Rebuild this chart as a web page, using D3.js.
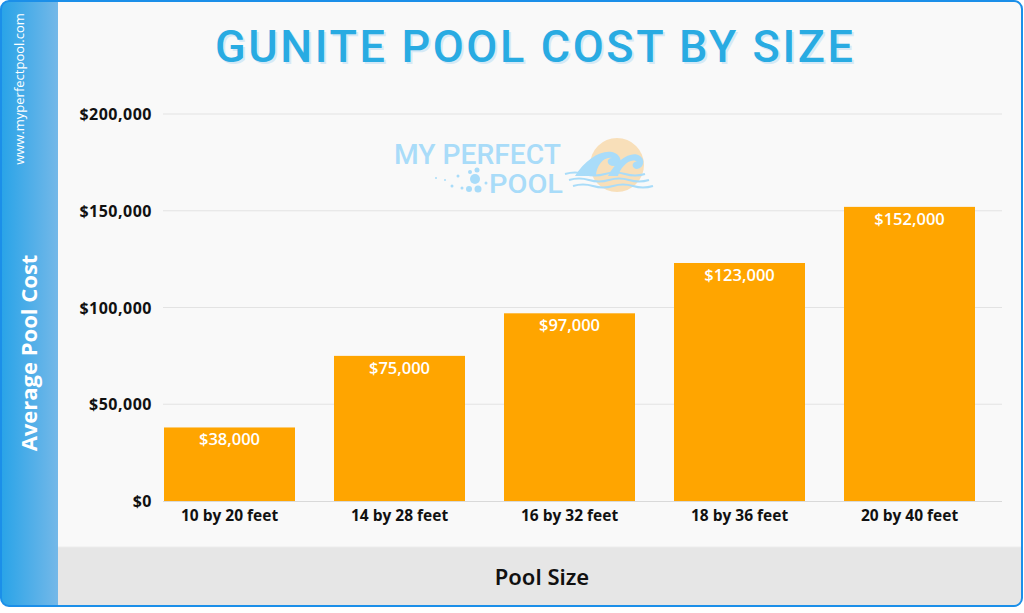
<!DOCTYPE html>
<html><head><meta charset="utf-8">
<script src="https://cdn.jsdelivr.net/npm/d3@7/dist/d3.min.js"></script>
<style>html,body{margin:0;padding:0;background:#fff;}svg{display:block;}</style>
</head><body>
<svg id="c" width="1024" height="613"></svg>
<script>
const categories = ["10 by 20 feet","14 by 28 feet","16 by 32 feet","18 by 36 feet","20 by 40 feet"];
const costs = [38000, 75000, 97000, 123000, 152000];
const yTicks = [0, 50000, 100000, 150000, 200000];
const title = "GUNITE POOL COST BY SIZE";
const xTitle = "Pool Size";
const yTitle = "Average Pool Cost";
const site = "www.myperfectpool.com";

const svg = d3.select("#c");
const defs = svg.append("defs");
const g1 = defs.append("linearGradient").attr("id","side").attr("x1","0").attr("x2","1");
g1.append("stop").attr("offset","0").attr("stop-color","#27a3e8");
g1.append("stop").attr("offset","1").attr("stop-color","#74b8e8");
defs.append("clipPath").attr("id","frame").append("rect")
  .attr("x",1).attr("y",1).attr("width",1021).attr("height",605).attr("rx",8);

const fr = svg.append("g").attr("clip-path","url(#frame)");
fr.append("rect").attr("x",0).attr("y",0).attr("width",1024).attr("height",613).attr("fill","#f9f9f9");
fr.append("rect").attr("x",58).attr("y",547).attr("width",966).attr("height",70).attr("fill","#e6e6e6");
fr.append("line").attr("x1",58).attr("x2",1024).attr("y1",547).attr("y2",547).attr("stroke","#ececec");
fr.append("rect").attr("x",0).attr("y",0).attr("width",58).attr("height",613).attr("fill","url(#side)");
svg.append("rect").attr("x",1).attr("y",1).attr("width",1021).attr("height",605).attr("rx",8)
  .attr("fill","none").attr("stroke","#1b8fe9").attr("stroke-width",2);

// scales
const x = d3.scaleBand().domain(categories).range([144.5, 994.5]).paddingInner(0.2294).paddingOuter(0.1147);
const y = d3.scaleLinear().domain([0, 200000]).range([501, 114]);

// gridlines
svg.append("g").selectAll("line").data(yTicks.slice(1)).join("line")
  .attr("x1",163).attr("x2",1002).attr("y1",d=>y(d)).attr("y2",d=>y(d))
  .attr("stroke","#e3e3e3").attr("stroke-width",1);

// watermark logo
const wm = svg.append("g");
wm.append("circle").attr("cx",617).attr("cy",165).attr("r",27).attr("fill","#f8dfb9");
wm.append("text").attr("x",394).attr("y",164).attr("font-family","Roboto, sans-serif").attr("font-size",24)
  .attr("font-weight",500).attr("fill","#a9dcf9").attr("textLength",167).attr("lengthAdjust","spacingAndGlyphs")
  .attr("transform","translate(394,164) scale(1,1.15) translate(-394,-164)").text("MY PERFECT");
wm.append("text").attr("x",489).attr("y",193).attr("font-family","Roboto, sans-serif").attr("font-size",22)
  .attr("font-weight",500).attr("fill","#a9dcf9").attr("textLength",74).attr("lengthAdjust","spacingAndGlyphs")
  .attr("transform","translate(489,193) scale(1,1.2) translate(-489,-193)").text("POOL");
const bubbles = [[475,179,5],[478,189,3.5],[469,189,3],[477,170,2.5],[470,172,2],[458,176,1.5],[452,186,1.5],[445,180,1],[462,188,1.5],[486,183,1.5],[436,178,1]];
wm.append("g").selectAll("circle").data(bubbles).join("circle")
  .attr("cx",d=>d[0]).attr("cy",d=>d[1]).attr("r",d=>d[2]).attr("fill","#a9dcf9");
wm.append("path").attr("d","M575,176 C585,160 600,150 612,152 C622,154 624,166 614,166 C606,166 606,158 612,158 C604,156 596,166 596,176 Z").attr("fill","#a9dcf9");
wm.append("path").attr("d","M608,176 C616,160 632,150 640,156 C648,162 640,172 634,168 C630,164 636,160 638,162 C630,156 620,168 618,176 Z").attr("fill","#a9dcf9");
[174,180,186].forEach((yy,i)=>{
  wm.append("path").attr("d",`M${565+i*4},${yy} q10,-3 20,0 t20,0 t20,0 t20,0`).attr("fill","none")
    .attr("stroke","#a9dcf9").attr("stroke-width",2);
});

// baseline
svg.append("line").attr("x1",163).attr("x2",1002).attr("y1",501.5).attr("y2",501.5).attr("stroke","#d9d9d9");

// bars
svg.append("g").selectAll("rect").data(costs).join("rect")
  .attr("x",(d,i)=>x(categories[i])).attr("width",x.bandwidth())
  .attr("y",d=>y(d)).attr("height",d=>y(0)-y(d)).attr("fill","#ffa500");

const fmt = d3.format("$,");
svg.append("g").selectAll("text").data(costs).join("text")
  .attr("x",(d,i)=>x(categories[i])+x.bandwidth()/2).attr("y",d=>y(d)+18)
  .attr("text-anchor","middle").attr("font-family","'Open Sans', sans-serif").attr("font-weight",600)
  .attr("font-size",16.5).attr("fill","#ffffff").text(d=>fmt(d));

// y axis
const yAxis = d3.axisLeft(y).tickValues(yTicks).tickFormat(d=>fmt(d)).tickSize(0).tickPadding(0);
const ya = svg.append("g").attr("transform","translate(152,0)").call(yAxis);
ya.select(".domain").remove();
ya.selectAll("text").attr("font-family","'Open Sans', sans-serif").attr("font-weight",700)
  .attr("font-size",16).attr("letter-spacing",0.5).attr("fill","#111").attr("dy","0.35em");

// x axis
const xAxis = d3.axisBottom(x).tickSize(0).tickPadding(0);
const xa = svg.append("g").attr("transform","translate(0,510)").call(xAxis);
xa.select(".domain").remove();
xa.selectAll("text").attr("font-family","'Open Sans', sans-serif").attr("font-weight",700)
  .attr("font-size",15.5).attr("fill","#111").attr("dy","0.71em");

// title
svg.append("text").attr("x",534).attr("y",62).attr("text-anchor","middle")
  .attr("font-family","Roboto, sans-serif").attr("font-weight",500).attr("font-size",45)
  .attr("fill","#d6e9f6").attr("textLength",638).attr("lengthAdjust","spacing").attr("transform","translate(2,2)").text(title);
svg.append("text").attr("x",534).attr("y",62).attr("text-anchor","middle")
  .attr("font-family","Roboto, sans-serif").attr("font-weight",500).attr("font-size",45)
  .attr("fill","#29abe2").attr("textLength",638).attr("lengthAdjust","spacing").text(title);

// axis titles
svg.append("text").attr("x",542).attr("y",585).attr("text-anchor","middle")
  .attr("font-family","'Noto Sans', sans-serif").attr("font-weight",600).attr("font-size",22)
  .attr("fill","#111").text(xTitle);
svg.append("text").attr("transform","translate(37,353) rotate(-90)").attr("text-anchor","middle")
  .attr("font-family","'Open Sans', sans-serif").attr("font-weight",700).attr("font-size",22)
  .attr("fill","#ffffff").text(yTitle);
svg.append("text").attr("transform","translate(24,89) rotate(-90)").attr("text-anchor","middle")
  .attr("font-family","'Open Sans', sans-serif").attr("font-weight",400).attr("font-size",13)
  .attr("fill","#ffffff").text(site);
</script>
</body></html>
